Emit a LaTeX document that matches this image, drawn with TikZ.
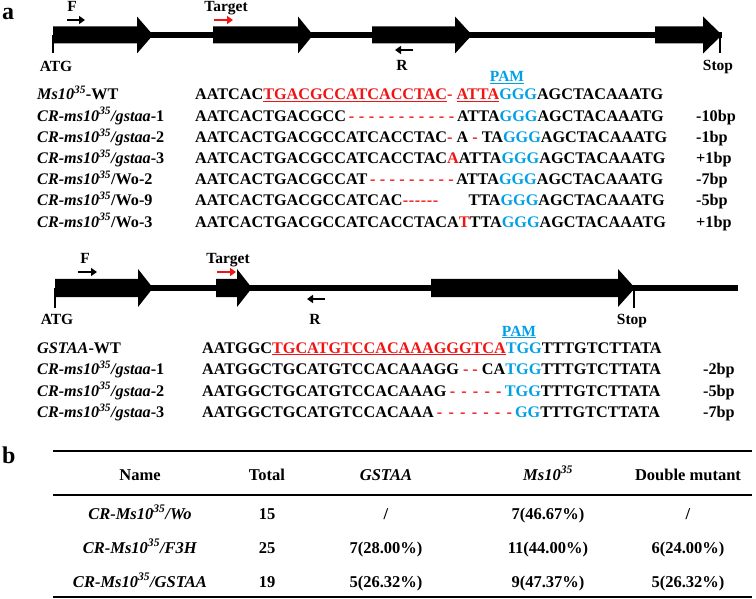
\documentclass[tikz,border=0pt]{standalone}
\usepackage{fontspec}
\setmainfont{Liberation Serif}
\usetikzlibrary{arrows.meta}

\definecolor{mred}{RGB}{240,20,20}
\definecolor{pamblue}{RGB}{0,160,230}
\newsavebox{\seqbox}
\newcommand{\ulseq}[1]{\sbox\seqbox{#1}\rlap{\rule[-2.2pt]{\wd\seqbox}{1.3pt}}\usebox\seqbox}
\newcommand{\gapdash}[2]{{\color{mred}\hbox to #1{\cleaders\hbox to #2{\hss-\hss}\hfill}}}

\tikzset{
  exon/.style={fill=black},
  intron/.style={line width=6pt},
  endtick/.style={line width=2.5pt},
  primer/.style={line width=2.2pt,-{Triangle[length=6pt,width=8pt]}},
  lbl/.style={anchor=base,inner sep=0pt,font=\bfseries\fontsize{15.5}{18}\selectfont},
  seq/.style={anchor=base west,inner sep=0pt,font=\bfseries\fontsize{16.2}{18}\selectfont},
  cell/.style={anchor=base,inner sep=0pt,font=\bfseries\fontsize{16.5}{18}\selectfont},
  panel/.style={anchor=base west,inner sep=0pt,font=\bfseries\fontsize{24}{28}\selectfont},
}

\begin{document}
\begin{tikzpicture}[x=1pt,y=-1pt]
   \useasboundingbox (0,0) rectangle (756,599);
   \node[panel] (pa) at (2,20) {a};
   \node[panel] (pb) at (2,463) {b};

   % Ms10 gene
   \draw[intron] (53,35) -- (722,35);
   \fill[exon] (53,26.5) -- (137,26.5) -- (137,16.5) -- (153,35) -- (137,53.5) -- (137,43.5) -- (53,43.5) -- cycle;
   \fill[exon] (213,26.5) -- (298,26.5) -- (298,16.5) -- (313,35) -- (298,53.5) -- (298,43.5) -- (213,43.5) -- cycle;
   \fill[exon] (372,26.5) -- (455,26.5) -- (455,16.5) -- (472,35) -- (455,53.5) -- (455,43.5) -- (372,43.5) -- cycle;
   \fill[exon] (655,26.5) -- (703,26.5) -- (703,16.5) -- (722,35) -- (703,53.5) -- (703,43.5) -- (655,43.5) -- cycle;
   \draw[endtick] (53,35) -- (53,53.5);
   \draw[endtick] (720,35) -- (720,53.5);
   \draw[primer] (67,20) -- (85,20);
   \draw[primer,mred] (214,20) -- (233,20);
   \draw[primer] (413,50) -- (395,50);

   % GSTAA gene
   \draw[intron] (55,288) -- (738,288);
   \fill[exon] (55,279) -- (138,279) -- (138,269) -- (153,288) -- (138,307) -- (138,297) -- (55,297) -- cycle;
   \fill[exon] (216,279) -- (237,279) -- (237,269) -- (252,288) -- (237,307) -- (237,297) -- (216,297) -- cycle;
   \fill[exon] (431,279) -- (618,279) -- (618,269) -- (635,288) -- (618,307) -- (618,297) -- (431,297) -- cycle;
   \draw[endtick] (55,288) -- (55,308);
   \draw[endtick] (634,288) -- (634,308);
   \draw[primer] (78,272) -- (97,272);
   \draw[primer,mred] (217,272) -- (236,272);
   \draw[primer] (325,299) -- (307,299);

   \begin{scope}[every node/.style={lbl}]
    \node (f1) at (72,12) {F};
    \node (t1) at (226,12) {Target};
    \node (r1) at (402,71) {R};
    \node (atg1) at (56,72) {ATG};
    \node (stop1) at (718,71) {Stop};
    \node[text=pamblue] (pam1) at (507,82) {\ulseq{PAM}};
    \node (f2) at (85,264) {F};
    \node (t2) at (228,264) {Target};
    \node (r2) at (315,324) {R};
    \node (atg2) at (57,324) {ATG};
    \node (stop2) at (632,324) {Stop};
    \node[text=pamblue] (pam2) at (519,336) {\ulseq{PAM}};
   \end{scope}

   \begin{scope}[every node/.style={seq}]
    \node (n1wt) at (37,100) {\textit{Ms10\textsuperscript{35}}-WT};
    \node (n1g1) at (37,121.2) {\textit{CR-ms10\textsuperscript{35}/gstaa}-1};
    \node (n1g2) at (37,142.4) {\textit{CR-ms10\textsuperscript{35}/gstaa}-2};
    \node (n1g3) at (37,163.6) {\textit{CR-ms10\textsuperscript{35}/gstaa}-3};
    \node (n1w2) at (37,184.8) {\textit{CR-ms10\textsuperscript{35}}/Wo-2};
    \node (n1w9) at (37,206) {\textit{CR-ms10\textsuperscript{35}}/Wo-9};
    \node (n1w3) at (37,227.2) {\textit{CR-ms10\textsuperscript{35}}/Wo-3};
    \node (s1wt) at (195,100) {AATCAC\textcolor{mred}{\ulseq{TGACGCCATCACCTAC}- \ulseq{ATTA}}\textcolor{pamblue}{GGG}AGCTACAAATG};
    \node (s1g1) at (195,121.2) {AATCACTGACGCC\gapdash{111pt}{10pt}ATTA\textcolor{pamblue}{GGG}AGCTACAAATG};
    \node (s1g2) at (195,142.4) {AATCACTGACGCCATCACCTAC\textcolor{mred}{-} A \textcolor{mred}{-} TA\textcolor{pamblue}{GGG}AGCTACAAATG};
    \node (s1g3) at (195,163.6) {AATCACTGACGCCATCACCTAC\textcolor{mred}{A}ATTA\textcolor{pamblue}{GGG}AGCTACAAATG};
    \node (s1w2) at (195,184.8) {AATCACTGACGCCAT\gapdash{89pt}{9.8pt}ATTA\textcolor{pamblue}{GGG}AGCTACAAATG};
    \node (s1w9) at (195,206) {AATCACTGACGCCATCAC\gapdash{36pt}{6pt}\hspace{30pt}TTA\textcolor{pamblue}{GGG}AGCTACAAATG};
    \node (s1w3) at (195,227.2) {AATCACTGACGCCATCACCTACA\textcolor{mred}{T}TTA\textcolor{pamblue}{GGG}AGCTACAAATG};
    \node (b1g1) at (696,121.2) {-10bp};
    \node (b1g2) at (696,142.4) {-1bp};
    \node (b1g3) at (696,163.6) {+1bp};
    \node (b1w2) at (696,184.8) {-7bp};
    \node (b1w9) at (696,206) {-5bp};
    \node (b1w3) at (696,227.2) {+1bp};

    \node (n2wt) at (37,353) {\textit{GSTAA}-WT};
    \node (n2g1) at (37,374.5) {\textit{CR-ms10\textsuperscript{35}/gstaa}-1};
    \node (n2g2) at (37,396) {\textit{CR-ms10\textsuperscript{35}/gstaa}-2};
    \node (n2g3) at (37,417.5) {\textit{CR-ms10\textsuperscript{35}/gstaa}-3};
    \node (s2wt) at (202,353) {AATGGC\textcolor{mred}{\ulseq{TGCATGTCCACAAAGGGTCA}}\textcolor{pamblue}{TGG}TTTGTCTTATA};
    \node (s2g1) at (202,374.5) {AATGGCTGCATGTCCACAAAGG \textcolor{mred}{- -} CA\textcolor{pamblue}{TGG}TTTGTCTTATA};
    \node (s2g2) at (202,396) {AATGGCTGCATGTCCACAAAG\gapdash{58.5pt}{11.6pt}\textcolor{pamblue}{TGG}TTTGTCTTATA};
    \node (s2g3) at (202,417.5) {AATGGCTGCATGTCCACAAA\gapdash{81.3pt}{11.6pt}\textcolor{pamblue}{GG}TTTGTCTTATA};
    \node (b2g1) at (703,374.5) {-2bp};
    \node (b2g2) at (703,396) {-5bp};
    \node (b2g3) at (703,417.5) {-7bp};
   \end{scope}

   % table b
   \draw[line width=2pt] (53,451) -- (752,451);
   \draw[line width=1.5pt] (53,495) -- (752,495);
   \draw[line width=2pt] (53,597) -- (752,597);
   \begin{scope}[every node/.style={cell}]
    \node (hname) at (140,480) {Name};
    \node (htot) at (267,480) {Total};
    \node (hgst) at (386,480) {\textit{GSTAA}};
    \node (hms) at (548,480) {\textit{Ms10\textsuperscript{35}}};
    \node (hdbl) at (688,480) {Double mutant};
    \node (wo) at (140,519) {\textit{CR-Ms10\textsuperscript{35}/Wo}};
    \node (wotot) at (267,519) {15};
    \node (wogst) at (386,519) {/};
    \node (woms) at (548,519) {7(46.67\%)};
    \node (wodbl) at (688,519) {/};
    \node (fh) at (140,553) {\textit{CR-Ms10\textsuperscript{35}/F3H}};
    \node (fhtot) at (267,553) {25};
    \node (fhgst) at (386,553) {7(28.00\%)};
    \node (fhms) at (548,553) {11(44.00\%)};
    \node (fhdbl) at (688,553) {6(24.00\%)};
    \node (gs) at (140,587) {\textit{CR-Ms10\textsuperscript{35}/GSTAA}};
    \node (gstot) at (267,587) {19};
    \node (gsgst) at (386,587) {5(26.32\%)};
    \node (gsms) at (548,587) {9(47.37\%)};
    \node (gsdbl) at (688,587) {5(26.32\%)};
   \end{scope}
\end{tikzpicture}
\end{document}
